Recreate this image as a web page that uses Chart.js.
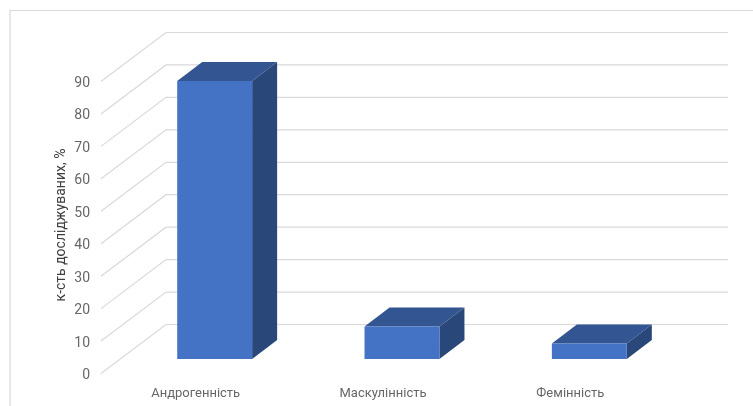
<!DOCTYPE html>
<html>
<head>
    <meta charset="utf-8">
    <title>Кількість досліджуваних</title>
    <script src="https://cdn.jsdelivr.net/npm/chart.js"></script>
    <style>
        body { margin: 0; background: #fff; }
        canvas { display: block; }
    </style>
</head>
<body>
    <canvas id="genderChart" width="753" height="406"></canvas>
    <script>
        const categories = ['Андрогенність', 'Маскулінність', 'Фемінність'];
        const percents = [85.7, 10, 4.8];
        const tickValues = [0, 10, 20, 30, 40, 50, 60, 70, 80, 90];
        const axisTitle = 'к-сть досліджуваних, %';

        const lineColor = '#d9d9d9';
        const fontFamily = 'Roboto, sans-serif';

        // fake 3D: the walls and bar sides are drawn from the real scales
        const fake3d = {
            id: 'fake3d',
            beforeDraw(chart) {
                const ctx = chart.ctx;
                ctx.save();
                ctx.strokeStyle = lineColor;
                ctx.lineWidth = 1.2;
                ctx.beginPath();
                ctx.moveTo(10, chart.height);
                ctx.lineTo(10, 10.5);
                ctx.lineTo(chart.width, 10.5);
                ctx.stroke();
                ctx.restore();
            },
            beforeDatasetsDraw(chart) {
                const ctx = chart.ctx;
                const area = chart.chartArea;
                const yScale = chart.scales.y;
                ctx.save();
                ctx.strokeStyle = lineColor;
                ctx.lineWidth = 1.2;
                tickValues.forEach(v => {
                    const y = yScale.getPixelForValue(v);
                    ctx.beginPath();
                    ctx.moveTo(area.left - 20, y + 14.5);
                    ctx.lineTo(area.left + 45, y - 34.5);
                    ctx.lineTo(area.right + 45, y - 34.5);
                    ctx.stroke();
                });
                chart.getDatasetMeta(0).data.forEach(bar => {
                    const left = bar.x - bar.width / 2;
                    const right = bar.x + bar.width / 2;
                    const dx = 25, dy = 19;
                    ctx.fillStyle = '#335592';
                    ctx.beginPath();
                    ctx.moveTo(left, bar.y);
                    ctx.lineTo(left + dx, bar.y - dy);
                    ctx.lineTo(right + dx, bar.y - dy);
                    ctx.lineTo(right, bar.y);
                    ctx.closePath();
                    ctx.fill();
                    ctx.fillStyle = '#2a4779';
                    ctx.beginPath();
                    ctx.moveTo(right, bar.y);
                    ctx.lineTo(right + dx, bar.y - dy);
                    ctx.lineTo(right + dx, bar.base - dy);
                    ctx.lineTo(right, bar.base);
                    ctx.closePath();
                    ctx.fill();
                });
                ctx.restore();
            },
            afterDraw(chart) {
                const ctx = chart.ctx;
                ctx.save();
                ctx.translate(61, 225);
                ctx.rotate(-Math.PI / 2);
                ctx.font = '14px ' + fontFamily;
                ctx.fillStyle = '#404040';
                ctx.textAlign = 'center';
                ctx.textBaseline = 'middle';
                ctx.fillText(axisTitle, 0, 0);
                ctx.restore();
            }
        };

        new Chart(document.getElementById('genderChart'), {
            type: 'bar',
            data: {
                labels: categories,
                datasets: [{
                    data: percents,
                    backgroundColor: '#4472c4',
                    borderWidth: 0,
                    barPercentage: 0.4,
                    categoryPercentage: 1,
                    clip: false
                }]
            },
            options: {
                responsive: false,
                animation: false,
                layout: { padding: { top: 67, right: 70, bottom: 0, left: 0 } },
                plugins: {
                    legend: { display: false },
                    tooltip: { enabled: false }
                },
                scales: {
                    x: {
                        grid: { display: false },
                        border: { display: false },
                        ticks: {
                            color: '#666666',
                            font: { family: fontFamily, size: 13 },
                            padding: 19,
                            labelOffset: -19,
                            maxRotation: 0
                        },
                        afterFit(scale) { scale.height = 47; }
                    },
                    y: {
                        min: 0,
                        max: 90,
                        grid: { display: false },
                        border: { display: false },
                        ticks: {
                            stepSize: 10,
                            color: '#666666',
                            font: { family: fontFamily, size: 14 },
                            padding: 23,
                            labelOffset: 16.5
                        },
                        afterFit(scale) { scale.width = 121; }
                    }
                }
            },
            plugins: [fake3d]
        });
    </script>
</body>
</html>
